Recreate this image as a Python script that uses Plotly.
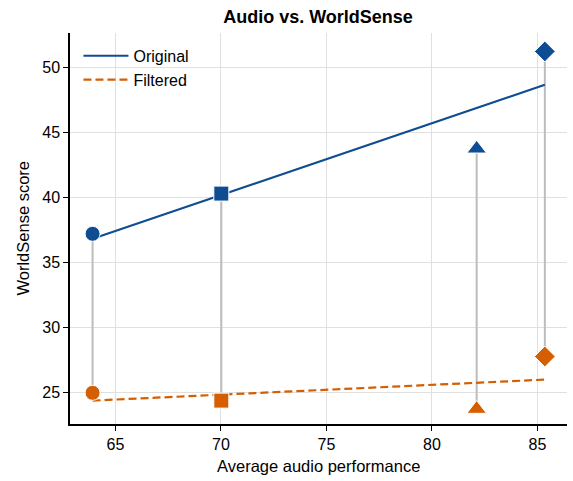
import plotly.graph_objects as go

# Data
audio_perf = [63.92, 70.02, 82.12, 85.35]
original_scores = [37.2, 40.3, 43.75, 51.25]
filtered_scores = [24.95, 24.35, 23.7, 27.75]
marker_symbols = ["circle", "square", "triangle-up", "diamond"]
marker_sizes = [15, 15, 17, 16]

# Trend line endpoints
fit_x = [63.92, 85.35]
original_fit = [36.82, 48.68]
filtered_fit = [24.35, 25.97]

BLUE = "#0E4D92"
ORANGE = "#D55E00"
GREY = "#BDBDBD"

fig = go.Figure()

# vertical connectors
cx, cy = [], []
for x, o, f in zip(audio_perf, original_scores, filtered_scores):
    cx += [x, x, None]
    cy += [o, f, None]
fig.add_trace(go.Scatter(x=cx, y=cy, mode="lines", line=dict(color=GREY, width=2),
                         showlegend=False, hoverinfo="skip"))

fig.add_trace(go.Scatter(x=fit_x, y=original_fit, mode="lines", name="Original",
                         line=dict(color=BLUE, width=2.2)))
fig.add_trace(go.Scatter(x=fit_x, y=filtered_fit, mode="lines", name="Filtered",
                         line=dict(color=ORANGE, width=2.2, dash="8px,4px")))

fig.add_trace(go.Scatter(x=audio_perf, y=original_scores, mode="markers", showlegend=False,
                         marker=dict(color=BLUE, symbol=marker_symbols, size=marker_sizes,
                                     opacity=1, line=dict(color="white", width=1))))
fig.add_trace(go.Scatter(x=audio_perf, y=filtered_scores, mode="markers", showlegend=False,
                         marker=dict(color=ORANGE, symbol=marker_symbols, size=marker_sizes,
                                     opacity=1, line=dict(color="white", width=1))))

axis_common = dict(
    showgrid=True, gridcolor="#E0E0E0", gridwidth=1,
    showline=True, linecolor="black", linewidth=1.5,
    ticks="outside", ticklen=5, tickwidth=1.3, tickcolor="black",
    zeroline=False, dtick=5, automargin=False,
    tickfont=dict(size=16, color="black"),
)

W, H = 573, 481
ML, MR, MT, MB = 70, 6, 33, 57

fig.update_layout(
    width=W, height=H,
    margin=dict(l=ML, r=MR, t=MT, b=MB),
    paper_bgcolor="white", plot_bgcolor="white",
    font=dict(family="Liberation Sans, Arial, sans-serif", color="black"),
    title=dict(text="<b>Audio vs. WorldSense</b>", x=0.555, xanchor="center",
               y=0.965, yanchor="middle", font=dict(size=18, color="black")),
    xaxis=dict(range=[62.85, 86.40], tick0=65, **axis_common),
    yaxis=dict(range=[22.55, 52.67], tick0=25, **axis_common),
    legend=dict(x=0.017, y=0.985, xanchor="left", yanchor="top",
                bgcolor="rgba(255,255,255,0)", font=dict(size=16),
                tracegroupgap=0, itemwidth=45),
    annotations=[
        dict(text="Average audio performance", xref="paper", yref="paper",
             x=0.5, y=-(466 - (H - MB)) / (H - MT - MB), xanchor="center", yanchor="middle",
             showarrow=False, font=dict(size=16.5, color="black")),
        dict(text="WorldSense score", xref="paper", yref="paper",
             x=-(ML - 22) / (W - ML - MR), y=0.5, xanchor="center", yanchor="middle",
             textangle=-90, showarrow=False, font=dict(size=16.5, color="black")),
    ],
)

fig.write_html("out.html", config={"displayModeBar": False},
               post_script="document.body.style.margin='0';document.body.style.overflow='hidden';")
